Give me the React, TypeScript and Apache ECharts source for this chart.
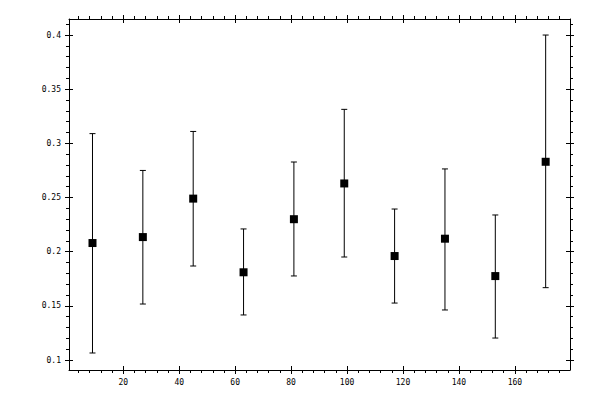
import React, { useEffect, useRef } from "react";
import * as echarts from "echarts";

// measurements (x position, value, lower and upper error)
const xValues = [9, 27, 45, 63, 81, 99, 117, 135, 153, 171];
const yValues = [0.208, 0.2135, 0.249, 0.181, 0.23, 0.263, 0.196, 0.212, 0.1775, 0.283];
const yLow = [0.1065, 0.1517, 0.1868, 0.1416, 0.1776, 0.1951, 0.1526, 0.1462, 0.1203, 0.1668];
const yHigh = [0.309, 0.275, 0.311, 0.221, 0.2828, 0.3314, 0.2394, 0.2764, 0.2339, 0.4];

// axis ticks
const xMajorTicks = [20, 40, 60, 80, 100, 120, 140, 160];
const xMinorTicks = Array.from({ length: 44 }, (_, i) => (i + 1) * 4);
const yMajorTicks = [0.1, 0.15, 0.2, 0.25, 0.3, 0.35, 0.4];
const yMinorTicks = Array.from({ length: 32 }, (_, i) => Math.round((0.1 + i * 0.01) * 100) / 100);

const X_MIN = 0.6;
const X_MAX = 179.7;
const Y_MIN = 0.0908;
const Y_MAX = 0.4148;

const black = "#000";
const labelFont = {
  color: black,
  fontFamily: "DejaVu Sans Mono",
  fontSize: 8,
};
const fmt = (v: number) => String(Math.round(v * 100) / 100);

// one axis per tick style: outward major, inward major, outward minor
const makeAxis = (
  min: number,
  max: number,
  position: string,
  ticks: number[],
  opts: { line?: boolean; labels?: number[]; inside?: boolean; length?: number }
) => ({
  type: "value",
  position,
  min,
  max,
  splitLine: { show: false },
  minorTick: { show: false },
  axisLine: { show: !!opts.line, onZero: false, lineStyle: { color: black, width: 1 } },
  axisLabel: opts.labels
    ? { show: true, customValues: opts.labels, margin: 8, formatter: fmt, ...labelFont }
    : { show: false },
  axisTick: {
    show: true,
    customValues: ticks,
    inside: !!opts.inside,
    length: opts.length ?? 4,
    lineStyle: { color: black, width: 1 },
  },
});

const App = () => {
  const chartRef = useRef<HTMLDivElement>(null);

  useEffect(() => {
    if (!chartRef.current) return;
    const chart = echarts.init(chartRef.current, null, { renderer: "svg" });

    const xAxis = [
      makeAxis(X_MIN, X_MAX, "bottom", xMajorTicks, { line: true, labels: xMajorTicks }),
      makeAxis(X_MIN, X_MAX, "bottom", xMajorTicks, { inside: true }),
      makeAxis(X_MIN, X_MAX, "bottom", xMinorTicks, { length: 3 }),
      makeAxis(X_MIN, X_MAX, "top", xMajorTicks, { line: true }),
      makeAxis(X_MIN, X_MAX, "top", xMajorTicks, { inside: true }),
      makeAxis(X_MIN, X_MAX, "top", xMinorTicks, { length: 3 }),
    ];
    const yAxis = [
      makeAxis(Y_MIN, Y_MAX, "left", yMajorTicks, { line: true, labels: yMajorTicks }),
      makeAxis(Y_MIN, Y_MAX, "left", yMajorTicks, { inside: true }),
      makeAxis(Y_MIN, Y_MAX, "left", yMinorTicks, { length: 3 }),
      makeAxis(Y_MIN, Y_MAX, "right", yMajorTicks, { line: true }),
      makeAxis(Y_MIN, Y_MAX, "right", yMajorTicks, { inside: true }),
      makeAxis(Y_MIN, Y_MAX, "right", yMinorTicks, { length: 3 }),
    ];

    chart.setOption({
      animation: false,
      backgroundColor: "#fff",
      grid: { left: 69, right: 30, top: 19, bottom: 30 },
      xAxis,
      yAxis,
      series: [
        {
          type: "custom",
          xAxisIndex: 0,
          yAxisIndex: 0,
          encode: { x: 0, y: [1, 2] },
          data: xValues.map((x, i) => [x, yLow[i], yHigh[i]]),
          renderItem: (_params: any, api: any) => {
            const top = api.coord([api.value(0), api.value(2)]);
            const bot = api.coord([api.value(0), api.value(1)]);
            const cap = 3;
            const style = { stroke: black, lineWidth: 1 };
            return {
              type: "group",
              children: [
                { type: "line", shape: { x1: top[0], y1: top[1], x2: bot[0], y2: bot[1] }, style },
                { type: "line", shape: { x1: top[0] - cap, y1: top[1], x2: top[0] + cap, y2: top[1] }, style },
                { type: "line", shape: { x1: bot[0] - cap, y1: bot[1], x2: bot[0] + cap, y2: bot[1] }, style },
              ],
            };
          },
        },
        {
          type: "scatter",
          xAxisIndex: 0,
          yAxisIndex: 0,
          symbol: "rect",
          symbolSize: 8,
          itemStyle: { color: black, opacity: 1 },
          z: 3,
          data: xValues.map((x, i) => [x, yValues[i]]),
        },
      ],
    } as any);

    return () => {
      chart.dispose();
    };
  }, []);

  return (
    <div
      ref={chartRef}
      style={{ position: "fixed", left: 0, top: 0, width: "600px", height: "400px" }}
    />
  );
};

export default App;
